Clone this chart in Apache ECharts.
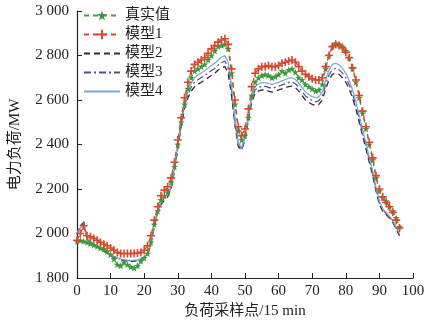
<!DOCTYPE html>
<html>
<head>
<meta charset="utf-8">
<script src="https://cdn.jsdelivr.net/npm/echarts@6/dist/echarts.min.js"></script>
<style>
html,body{margin:0;padding:0;background:#fff;}
#chart{width:444px;height:331px;}
</style>
</head>
<body>
<div id="chart"></div>
<script>
// Sample index (15-minute steps over one day)
const samples = Array.from({length: 97}, (_, i) => i);

const seriesNames = ['真实值', '模型1', '模型2', '模型3', '模型4'];

const actual = [1965,1968,1965,1960,1955,1948,1942,1935,1930,1920,1905,1885,1860,1855,1870,1860,1850,1845,1855,1875,
  1890,1910,1960,2040,2100,2150,2170,2185,2230,2300,2400,2500,2580,2650,2700,2730,2740,2750,2760,2780,
  2800,2820,2840,2845,2850,2830,2720,2580,2460,2420,2440,2520,2620,2680,2700,2710,2715,2710,2700,2705,
  2715,2730,2720,2735,2740,2725,2700,2690,2670,2660,2650,2640,2645,2670,2740,2800,2840,2855,2850,2840,
  2820,2790,2740,2680,2610,2540,2470,2400,2330,2250,2190,2160,2145,2120,2100,2070,2030];

const model1 = [1970,2000,2035,1990,1985,1978,1970,1960,1952,1945,1935,1925,1915,1910,1910,1910,1910,1910,1912,1915,
  1925,1945,1990,2060,2120,2170,2195,2210,2250,2320,2420,2520,2610,2680,2730,2760,2770,2780,2790,2810,
  2830,2845,2860,2870,2875,2850,2740,2600,2480,2440,2470,2560,2660,2720,2740,2750,2750,2755,2750,2750,
  2755,2765,2770,2775,2780,2770,2750,2730,2715,2705,2695,2690,2690,2700,2750,2800,2840,2850,2845,2835,
  2815,2790,2745,2690,2620,2550,2480,2410,2340,2260,2200,2165,2140,2120,2095,2060,2025];

const model2 = [2000,2030,2050,1975,1960,1950,1940,1930,1920,1910,1902,1895,1888,1882,1878,1876,1875,1876,1878,1882,
  1890,1905,1950,2030,2090,2130,2150,2165,2200,2280,2380,2480,2560,2610,2640,2660,2670,2680,2690,2700,
  2710,2720,2735,2745,2750,2720,2620,2490,2390,2375,2420,2510,2590,2630,2640,2645,2645,2640,2635,2640,
  2645,2650,2655,2660,2662,2655,2640,2620,2600,2590,2580,2575,2580,2600,2650,2690,2715,2720,2715,2700,
  2680,2650,2610,2560,2500,2440,2380,2320,2260,2190,2130,2100,2085,2070,2050,2020,1990];

const model3 = [1995,2035,2055,1978,1962,1952,1942,1932,1922,1912,1904,1896,1889,1884,1880,1878,1877,1878,1880,1884,
  1892,1908,1954,2034,2094,2135,2155,2170,2206,2286,2388,2490,2572,2625,2658,2680,2691,2701,2711,2721,
  2732,2742,2757,2768,2775,2745,2642,2505,2400,2380,2425,2518,2602,2645,2656,2661,2661,2657,2652,2657,
  2662,2668,2673,2679,2681,2673,2658,2638,2618,2607,2597,2592,2597,2617,2670,2712,2737,2742,2736,2721,
  2700,2669,2628,2576,2515,2454,2392,2331,2270,2199,2137,2106,2090,2074,2054,2024,1995];

const model4 = [2005,2025,2040,1980,1965,1955,1945,1935,1925,1915,1906,1898,1891,1886,1882,1880,1879,1880,1882,1886,
  1895,1912,1958,2038,2098,2140,2160,2175,2212,2292,2395,2500,2585,2640,2675,2700,2712,2722,2732,2743,
  2755,2765,2780,2792,2800,2770,2665,2520,2410,2385,2430,2525,2615,2660,2672,2678,2678,2674,2670,2674,
  2680,2686,2692,2698,2700,2692,2676,2656,2636,2625,2615,2610,2615,2635,2690,2735,2760,2765,2758,2742,
  2720,2688,2646,2592,2530,2468,2405,2342,2280,2208,2145,2112,2095,2078,2058,2028,2000];

const xTicks = [0, 10, 20, 30, 40, 50, 60, 70, 80, 90, 100];
const yTicks = [1800, 2000, 2200, 2400, 2600, 2800, 3000];

const FONT = '"Liberation Serif", "Noto Sans CJK SC", serif';
const plusPath = 'path://M4,0 L6,0 L6,4 L10,4 L10,6 L6,6 L6,10 L4,10 L4,6 L0,6 L0,4 L4,4 Z';
const starPath = 'path://M5,0 L6.2,3.4 L10,3.6 L7,5.9 L8.1,9.6 L5,7.5 L1.9,9.6 L3,5.9 L0,3.6 L3.8,3.4 Z';

function pairs(vals) { return vals.map((v, i) => [samples[i], v]); }

const chart = echarts.init(document.getElementById('chart'), null, {renderer: 'canvas'});
chart.setOption({
  backgroundColor: '#ffffff',
  animation: false,
  textStyle: {fontFamily: FONT},
  grid: {left: 73, right: 31, top: 11, bottom: 53, containLabel: false},
  legend: {
    orient: 'vertical', left: 78, top: 3, itemWidth: 36, itemHeight: 12, itemGap: 4,
    textStyle: {fontFamily: FONT, fontSize: 15, color: '#222'},
    data: [
      {name: seriesNames[0]},
      {name: seriesNames[1]},
      {name: seriesNames[2], itemStyle: {opacity: 0}},
      {name: seriesNames[3], itemStyle: {opacity: 0}},
      {name: seriesNames[4], itemStyle: {opacity: 0}}
    ]
  },
  xAxis: {
    type: 'value', min: xTicks[0], max: xTicks[xTicks.length - 1], interval: 10,
    name: '负荷采样点/15 min', nameLocation: 'middle', nameGap: 26,
    nameTextStyle: {fontFamily: FONT, fontSize: 15, color: '#222'},
    axisLine: {show: true, lineStyle: {color: '#222', width: 1.2}},
    axisTick: {show: true, inside: true, length: 5, lineStyle: {color: '#222'}},
    axisLabel: {fontFamily: FONT, fontSize: 15, color: '#222', margin: 6},
    splitLine: {show: false}
  },
  yAxis: {
    type: 'value', min: yTicks[0], max: yTicks[yTicks.length - 1], interval: 200,
    name: '电力负荷/MW', nameLocation: 'middle', nameGap: 54, nameRotate: 90,
    nameTextStyle: {fontFamily: FONT, fontSize: 15, color: '#222'},
    axisLine: {show: true, lineStyle: {color: '#222', width: 1.2}},
    axisTick: {show: true, inside: true, length: 5, lineStyle: {color: '#222'}},
    axisLabel: {
      fontFamily: FONT, fontSize: 15, color: '#222', margin: 8,
      formatter: v => String(v).replace(/(\d)(\d{3})$/, '$1 $2')
    },
    splitLine: {show: false}
  },
  series: [
    {
      name: seriesNames[0], type: 'line', data: pairs(actual),
      symbol: starPath, symbolSize: 7, showAllSymbol: true,
      lineStyle: {color: '#4aa04a', width: 1.2, type: [5, 4]},
      itemStyle: {color: '#3c9a3c'}, z: 3
    },
    {
      name: seriesNames[1], type: 'line', data: pairs(model1),
      symbol: plusPath, symbolSize: 8, showAllSymbol: true,
      lineStyle: {color: '#d9482c', width: 1.2, type: [5, 4]},
      itemStyle: {color: '#d9482c'}, z: 4
    },
    {
      name: seriesNames[2], type: 'line', data: pairs(model2),
      symbol: 'none',
      lineStyle: {color: '#2a2d4a', width: 1.3, type: [6, 4]},
      itemStyle: {color: '#2a2d4a'}, z: 2
    },
    {
      name: seriesNames[3], type: 'line', data: pairs(model3),
      symbol: 'none',
      lineStyle: {color: '#5e4e7e', width: 1.2, type: [7, 3, 2, 3]},
      itemStyle: {color: '#5e4e7e'}, z: 2
    },
    {
      name: seriesNames[4], type: 'line', data: pairs(model4),
      symbol: 'none',
      lineStyle: {color: '#7aa6d8', width: 1.2},
      itemStyle: {color: '#7aa6d8'}, z: 2
    }
  ]
});
</script>
</body>
</html>
